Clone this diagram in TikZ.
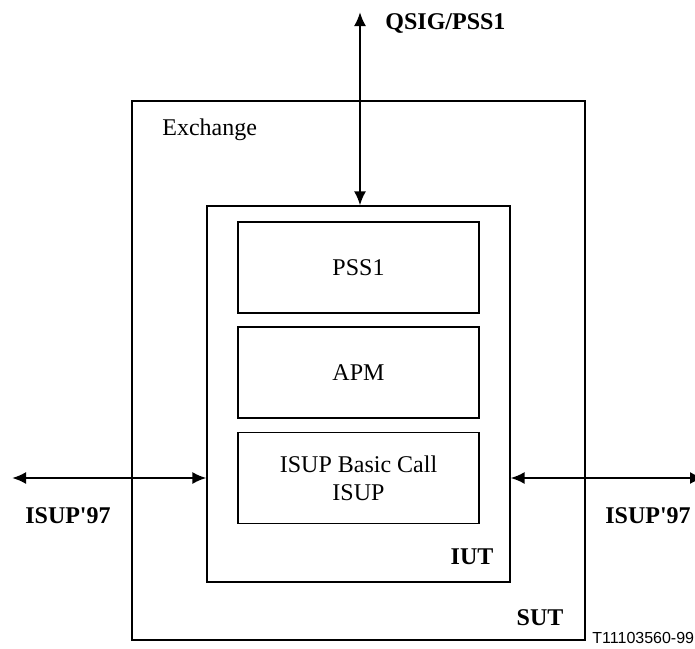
\documentclass[tikz,border=0pt]{standalone}
\usepackage{fontspec}
\setmainfont{Liberation Serif}
\newfontfamily\tagfont{Liberation Sans}
\usetikzlibrary{arrows.meta,positioning}

\begin{document}
\begin{tikzpicture}
  [
    x=0.5pt,y=-0.5pt,
    frame/.style={  draw,  line width=0.55pt,  inner sep=0pt},
    layer/.style={  draw,  line width=0.6pt,  minimum width=120.5pt,  minimum height=45.5pt,  align=center,  font=\fontsize{12}{14}\selectfont},
    tag/.style={  inner sep=0pt,  font=\fontsize{12}{14}\selectfont\bfseries},
    link/.style={  line width=1.1pt,  {Latex[length=7pt,width=6pt]}-{Latex[length=7pt,width=6pt]}}
  ]
  \useasboundingbox (0,0) rectangle (695,648);

  \node[frame,minimum width=226.5pt,minimum height=269.5pt] (sut) at (358.5,370.5) {};
  \node[frame,minimum width=151.5pt,minimum height=188pt] (iut) at (358.5,394) {};

  \node[layer] (pss) at (358.5,267.5) {PSS1};
  \node[layer] (apm) at (358.5,372.5) {APM};
  \node[layer] (isup) at (358.5,478) {ISUP Basic Call\\ISUP};

  \node[inner sep=0pt,anchor=west,font=\fontsize{12}{14}\selectfont] (exch) at (162,130) {Exchange};
  \node[tag] (iutlbl) at (472,557) {IUT};
  \node[tag] (sutlbl) at (540,618) {SUT};
  \node[inner sep=0pt,anchor=west,font=\tagfont\fontsize{8}{10}\selectfont] (ref) at (592,638) {T11103560-99};

  % interfaces
  \coordinate (qtop) at (360,12);
  \coordinate (lend) at (12,478);
  \coordinate (rend) at (704,478);
  \node[tag,anchor=west] (qsig) at (385,23) {QSIG/PSS1};
  \node[tag] (isupl) at (68,516) {ISUP\textquotesingle 97};
  \node[tag] (isupr) at (648,516) {ISUP\textquotesingle 97};

  \draw[link] (qtop) -- (qtop |- iut.north);
  \draw[link] (lend) -- (lend -| iut.west);
  \draw[link] (iut.east |- rend) -- (rend);
\end{tikzpicture}
\end{document}
